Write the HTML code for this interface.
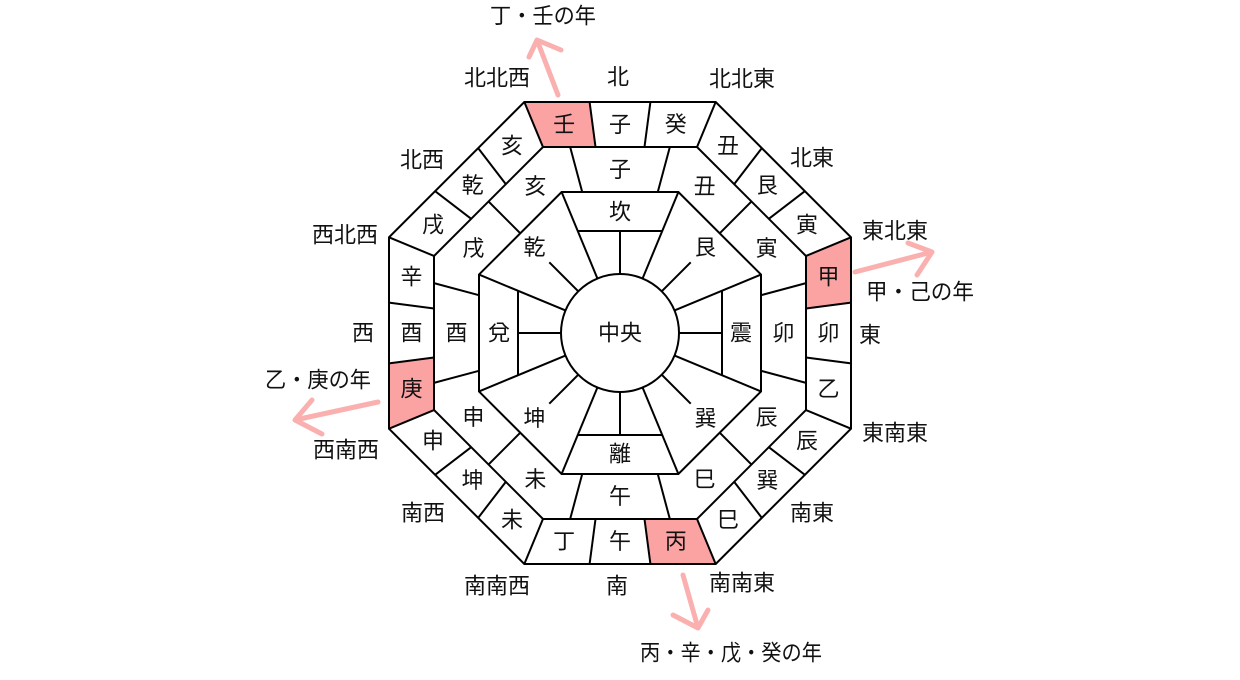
<!DOCTYPE html>
<html><head><meta charset="utf-8"><style>
html,body{margin:0;padding:0;background:#fff;}
svg{display:block;}
text{font-family:"Liberation Sans","Noto Sans CJK JP",sans-serif;font-size:22px;fill:#111;text-anchor:middle;dominant-baseline:central;}
.l{stroke:#000;stroke-width:2;fill:none;}
.a{stroke:#fbb0b0;stroke-width:5;fill:none;stroke-linecap:round;stroke-linejoin:round;}
</style></head><body>
<svg width="1240" height="680" viewBox="0 0 1240 680" xmlns="http://www.w3.org/2000/svg">
<g fill="#fba3a3">
<polygon points="524.3,102 589.6,102 595.5,147 543,147"/>
<polygon points="524.3,102 589.6,102 595.5,147 543,147" transform="rotate(90 620 333)"/>
<polygon points="524.3,102 589.6,102 595.5,147 543,147" transform="rotate(180 620 333)"/>
<polygon points="524.3,102 589.6,102 595.5,147 543,147" transform="rotate(270 620 333)"/>
</g>
<g class="l">
<polygon points="524.3,102 715.7,102 851,237.3 851,428.7 715.7,564 524.3,564 389,428.7 389,237.3"/>
<polygon points="543,147 697,147 806,256 806,410 697,519 543,519 434,410 434,256"/>
<polygon points="561.6,192 678.4,192 761,274.6 761,391.4 678.4,474 561.6,474 479,391.4 479,274.6"/>
<circle cx="620" cy="333" r="59"/>
</g>
<g class="l">
<line x1="620" y1="145.4" x2="620" y2="100" transform="rotate(7.5 620 333)"/>
<line x1="620" y1="131.7" x2="620" y2="83" transform="rotate(22.5 620 333)"/>
<line x1="620" y1="145.4" x2="620" y2="100" transform="rotate(37.5 620 333)"/>
<line x1="620" y1="145.4" x2="620" y2="100" transform="rotate(52.5 620 333)"/>
<line x1="620" y1="131.7" x2="620" y2="83" transform="rotate(67.5 620 333)"/>
<line x1="620" y1="145.4" x2="620" y2="100" transform="rotate(82.5 620 333)"/>
<line x1="620" y1="145.4" x2="620" y2="100" transform="rotate(97.5 620 333)"/>
<line x1="620" y1="131.7" x2="620" y2="83" transform="rotate(112.5 620 333)"/>
<line x1="620" y1="145.4" x2="620" y2="100" transform="rotate(127.5 620 333)"/>
<line x1="620" y1="145.4" x2="620" y2="100" transform="rotate(142.5 620 333)"/>
<line x1="620" y1="131.7" x2="620" y2="83" transform="rotate(157.5 620 333)"/>
<line x1="620" y1="145.4" x2="620" y2="100" transform="rotate(172.5 620 333)"/>
<line x1="620" y1="145.4" x2="620" y2="100" transform="rotate(187.5 620 333)"/>
<line x1="620" y1="131.7" x2="620" y2="83" transform="rotate(202.5 620 333)"/>
<line x1="620" y1="145.4" x2="620" y2="100" transform="rotate(217.5 620 333)"/>
<line x1="620" y1="145.4" x2="620" y2="100" transform="rotate(232.5 620 333)"/>
<line x1="620" y1="131.7" x2="620" y2="83" transform="rotate(247.5 620 333)"/>
<line x1="620" y1="145.4" x2="620" y2="100" transform="rotate(262.5 620 333)"/>
<line x1="620" y1="145.4" x2="620" y2="100" transform="rotate(277.5 620 333)"/>
<line x1="620" y1="131.7" x2="620" y2="83" transform="rotate(292.5 620 333)"/>
<line x1="620" y1="145.4" x2="620" y2="100" transform="rotate(307.5 620 333)"/>
<line x1="620" y1="145.4" x2="620" y2="100" transform="rotate(322.5 620 333)"/>
<line x1="620" y1="131.7" x2="620" y2="83" transform="rotate(337.5 620 333)"/>
<line x1="620" y1="145.4" x2="620" y2="100" transform="rotate(352.5 620 333)"/>
</g>
<g class="l">
<line x1="620" y1="187" x2="620" y2="140.4" transform="rotate(15 620 333)"/>
<line x1="620" y1="192" x2="620" y2="147" transform="rotate(45 620 333)"/>
<line x1="620" y1="187" x2="620" y2="140.4" transform="rotate(75 620 333)"/>
<line x1="620" y1="187" x2="620" y2="140.4" transform="rotate(105 620 333)"/>
<line x1="620" y1="192" x2="620" y2="147" transform="rotate(135 620 333)"/>
<line x1="620" y1="187" x2="620" y2="140.4" transform="rotate(165 620 333)"/>
<line x1="620" y1="187" x2="620" y2="140.4" transform="rotate(195 620 333)"/>
<line x1="620" y1="192" x2="620" y2="147" transform="rotate(225 620 333)"/>
<line x1="620" y1="187" x2="620" y2="140.4" transform="rotate(255 620 333)"/>
<line x1="620" y1="187" x2="620" y2="140.4" transform="rotate(285 620 333)"/>
<line x1="620" y1="192" x2="620" y2="147" transform="rotate(315 620 333)"/>
<line x1="620" y1="187" x2="620" y2="140.4" transform="rotate(345 620 333)"/>
</g>
<g class="l">
<line x1="620" y1="180.4" x2="620" y2="274" transform="rotate(22.5 620 333)"/>
<line x1="620" y1="180.4" x2="620" y2="274" transform="rotate(67.5 620 333)"/>
<line x1="620" y1="180.4" x2="620" y2="274" transform="rotate(112.5 620 333)"/>
<line x1="620" y1="180.4" x2="620" y2="274" transform="rotate(157.5 620 333)"/>
<line x1="620" y1="180.4" x2="620" y2="274" transform="rotate(202.5 620 333)"/>
<line x1="620" y1="180.4" x2="620" y2="274" transform="rotate(247.5 620 333)"/>
<line x1="620" y1="180.4" x2="620" y2="274" transform="rotate(292.5 620 333)"/>
<line x1="620" y1="180.4" x2="620" y2="274" transform="rotate(337.5 620 333)"/>
<line x1="577.8" y1="231" x2="662.2" y2="231"/>
<line x1="577.8" y1="231" x2="662.2" y2="231" transform="rotate(90 620 333)"/>
<line x1="577.8" y1="231" x2="662.2" y2="231" transform="rotate(180 620 333)"/>
<line x1="577.8" y1="231" x2="662.2" y2="231" transform="rotate(270 620 333)"/>
<line x1="620" y1="231" x2="620" y2="274" transform="rotate(0 620 333)"/>
<line x1="620" y1="233" x2="620" y2="274" transform="rotate(45 620 333)"/>
<line x1="620" y1="231" x2="620" y2="274" transform="rotate(90 620 333)"/>
<line x1="620" y1="233" x2="620" y2="274" transform="rotate(135 620 333)"/>
<line x1="620" y1="231" x2="620" y2="274" transform="rotate(180 620 333)"/>
<line x1="620" y1="233" x2="620" y2="274" transform="rotate(225 620 333)"/>
<line x1="620" y1="231" x2="620" y2="274" transform="rotate(270 620 333)"/>
<line x1="620" y1="233" x2="620" y2="274" transform="rotate(315 620 333)"/>
</g>
<g>
<g transform="rotate(0 620 333)"><text transform="translate(620 124.5) rotate(0)">子</text></g>
<g transform="rotate(15 620 333)"><text transform="translate(620 117.1) rotate(-15)">癸</text></g>
<g transform="rotate(30 620 333)"><text transform="translate(620 117.1) rotate(-30)">丑</text></g>
<g transform="rotate(45 620 333)"><text transform="translate(620 124.5) rotate(-45)">艮</text></g>
<g transform="rotate(60 620 333)"><text transform="translate(620 117.1) rotate(-60)">寅</text></g>
<g transform="rotate(75 620 333)"><text transform="translate(620 117.1) rotate(-75)">甲</text></g>
<g transform="rotate(90 620 333)"><text transform="translate(620 124.5) rotate(-90)">卯</text></g>
<g transform="rotate(105 620 333)"><text transform="translate(620 117.1) rotate(-105)">乙</text></g>
<g transform="rotate(120 620 333)"><text transform="translate(620 117.1) rotate(-120)">辰</text></g>
<g transform="rotate(135 620 333)"><text transform="translate(620 124.5) rotate(-135)">巽</text></g>
<g transform="rotate(150 620 333)"><text transform="translate(620 117.1) rotate(-150)">巳</text></g>
<g transform="rotate(165 620 333)"><text transform="translate(620 117.1) rotate(-165)">丙</text></g>
<g transform="rotate(180 620 333)"><text transform="translate(620 124.5) rotate(-180)">午</text></g>
<g transform="rotate(195 620 333)"><text transform="translate(620 117.1) rotate(-195)">丁</text></g>
<g transform="rotate(210 620 333)"><text transform="translate(620 117.1) rotate(-210)">未</text></g>
<g transform="rotate(225 620 333)"><text transform="translate(620 124.5) rotate(-225)">坤</text></g>
<g transform="rotate(240 620 333)"><text transform="translate(620 117.1) rotate(-240)">申</text></g>
<g transform="rotate(255 620 333)"><text transform="translate(620 117.1) rotate(-255)">庚</text></g>
<g transform="rotate(270 620 333)"><text transform="translate(620 124.5) rotate(-270)">酉</text></g>
<g transform="rotate(285 620 333)"><text transform="translate(620 117.1) rotate(-285)">辛</text></g>
<g transform="rotate(300 620 333)"><text transform="translate(620 117.1) rotate(-300)">戌</text></g>
<g transform="rotate(315 620 333)"><text transform="translate(620 124.5) rotate(-315)">乾</text></g>
<g transform="rotate(330 620 333)"><text transform="translate(620 117.1) rotate(-330)">亥</text></g>
<g transform="rotate(345 620 333)"><text transform="translate(620 117.1) rotate(-345)">壬</text></g>
</g>
<g>
<g transform="rotate(0 620 333)"><text transform="translate(620 169.5) rotate(0)">子</text></g>
<g transform="rotate(30 620 333)"><text transform="translate(620 163.7) rotate(-30)">丑</text></g>
<g transform="rotate(60 620 333)"><text transform="translate(620 163.7) rotate(-60)">寅</text></g>
<g transform="rotate(90 620 333)"><text transform="translate(620 169.5) rotate(-90)">卯</text></g>
<g transform="rotate(120 620 333)"><text transform="translate(620 163.7) rotate(-120)">辰</text></g>
<g transform="rotate(150 620 333)"><text transform="translate(620 163.7) rotate(-150)">巳</text></g>
<g transform="rotate(180 620 333)"><text transform="translate(620 169.5) rotate(-180)">午</text></g>
<g transform="rotate(210 620 333)"><text transform="translate(620 163.7) rotate(-210)">未</text></g>
<g transform="rotate(240 620 333)"><text transform="translate(620 163.7) rotate(-240)">申</text></g>
<g transform="rotate(270 620 333)"><text transform="translate(620 169.5) rotate(-270)">酉</text></g>
<g transform="rotate(300 620 333)"><text transform="translate(620 163.7) rotate(-300)">戌</text></g>
<g transform="rotate(330 620 333)"><text transform="translate(620 163.7) rotate(-330)">亥</text></g>
</g>
<g>
<g transform="rotate(0 620 333)"><text transform="translate(620 212) rotate(0)">坎</text></g>
<g transform="rotate(45 620 333)"><text transform="translate(620 212) rotate(-45)">艮</text></g>
<g transform="rotate(90 620 333)"><text transform="translate(620 212) rotate(-90)">震</text></g>
<g transform="rotate(135 620 333)"><text transform="translate(620 212) rotate(-135)">巽</text></g>
<g transform="rotate(180 620 333)"><text transform="translate(620 212) rotate(-180)">離</text></g>
<g transform="rotate(225 620 333)"><text transform="translate(620 212) rotate(-225)">坤</text></g>
<g transform="rotate(270 620 333)"><text transform="translate(620 212) rotate(-270)">兌</text></g>
<g transform="rotate(315 620 333)"><text transform="translate(620 212) rotate(-315)">乾</text></g>
</g>
<text x="620" y="333">中央</text>
<text x="618" y="77">北</text>
<text x="742" y="79">北北東</text>
<text x="812" y="158">北東</text>
<text x="895" y="231">東北東</text>
<text x="870" y="335">東</text>
<text x="895" y="433">東南東</text>
<text x="812" y="513">南東</text>
<text x="742" y="583">南南東</text>
<text x="617" y="586">南</text>
<text x="497" y="586">南南西</text>
<text x="423" y="513">南西</text>
<text x="346" y="450">西南西</text>
<text x="363" y="333">西</text>
<text x="345" y="235">西北西</text>
<text x="422" y="160">北西</text>
<text x="497" y="78">北北西</text>
<g class="a">
<path d="M558,95 L537,40 M529,57 L537,40 L561,50"/>
<path d="M855,272 L932,252 M908,243 L932,252 L917,275"/>
<path d="M683,575 L698,628 M673,615 L698,628 L708,610"/>
<path d="M378,402 L295,420 M312,400 L295,420 L322,434"/>
</g>
<text x="543" y="16" textLength="106" lengthAdjust="spacingAndGlyphs">丁・壬の年</text>
<text x="920" y="292" textLength="108" lengthAdjust="spacingAndGlyphs">甲・己の年</text>
<text x="731" y="653" textLength="182" lengthAdjust="spacingAndGlyphs">丙・辛・戊・癸の年</text>
<text x="318" y="380" textLength="106" lengthAdjust="spacingAndGlyphs">乙・庚の年</text>
</svg>
</body></html>
